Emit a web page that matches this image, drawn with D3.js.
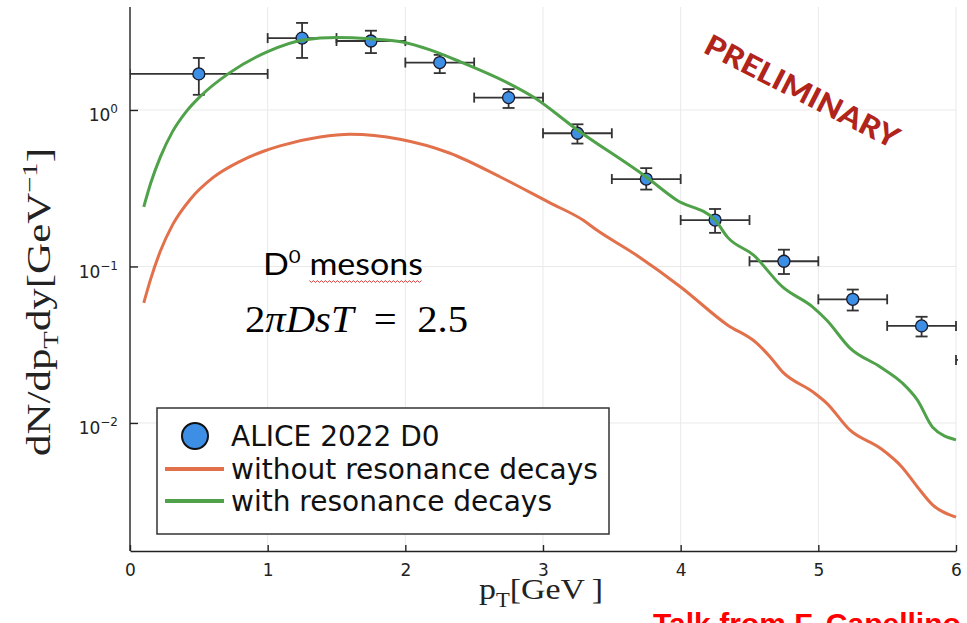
<!DOCTYPE html>
<html>
  <head>
    <style>
      body {
        margin: 0;
        background: #fff;
      }
      .grid line {
        stroke: #e9e9e9;
        stroke-width: 1px;
      }
      .axis path, .axis line {
        stroke: #222;
        stroke-width: 1.4px;
      }
      .axis text {
        font-family: "DejaVu Sans", sans-serif;
        font-size: 17px;
        fill: #222;
      }
      .model-line {
        fill: none;
        stroke-width: 3px;
        stroke-linejoin: round;
      }
      .errbar {
        stroke: #333;
        stroke-width: 1.8px;
      }
      .legend text {
        font-family: "DejaVu Sans", sans-serif;
        font-size: 28px;
        fill: #111;
      }
    </style>
  </head>
  <body>
    <script src="https://d3js.org/d3.v7.min.js"></script>
    <script>
    // ALICE 2022 D0 data: bin centre, half bin width, value, upper and lower error
      var alice_pt = [0.5, 1.25, 1.75, 2.25, 2.75, 3.25, 3.75, 4.25, 4.75, 5.25, 5.75, 6.5];
      var alice_halfwidth = [0.5, 0.25, 0.25, 0.25, 0.25, 0.25, 0.25, 0.25, 0.25, 0.25, 0.25, 0.5];
      var alice_value = [1.70, 2.88, 2.76, 2.01, 1.20, 0.71, 0.362, 0.198, 0.108, 0.0617, 0.0417, 0.0253];
      var alice_upper = [2.15, 3.60, 3.21, 2.25, 1.36, 0.81, 0.425, 0.233, 0.128, 0.0712, 0.0477, 0.029];
      var alice_lower = [1.25, 2.15, 2.31, 1.72, 1.03, 0.61, 0.310, 0.164, 0.0895, 0.0523, 0.0357, 0.022];

    // model curve with resonance decays (green)
      var with_pt = [0.10, 0.15, 0.22, 0.31, 0.41, 0.51, 0.72, 1.00, 1.26, 1.50, 1.74, 1.98, 2.18, 2.40,
                     2.75, 2.93, 3.25, 3.75, 3.97, 4.25, 4.34, 4.53, 4.74, 4.96, 5.06, 5.23, 5.45, 5.61,
                     5.72, 5.83, 6.00];
      var with_value = [0.24, 0.34, 0.50, 0.73, 0.98, 1.22, 1.72, 2.36, 2.80, 2.90, 2.85, 2.72, 2.42, 2.03,
                        1.48, 1.21, 0.745, 0.373, 0.266, 0.198, 0.154, 0.118, 0.074, 0.055, 0.0455, 0.0301,
                        0.0228, 0.018, 0.014, 0.0094, 0.0078];

    // model curve without resonance decays (orange)
      var without_pt = [0.10, 0.15, 0.22, 0.31, 0.44, 0.60, 0.80, 0.97, 1.09, 1.38, 1.60, 1.96, 2.32, 2.69,
                        3.05, 3.29, 3.39, 3.68, 4.00, 4.34, 4.55, 4.65, 4.74, 4.96, 5.06, 5.23, 5.45, 5.61,
                        5.72, 5.83, 6.00];
      var without_value = [0.0585, 0.083, 0.125, 0.185, 0.270, 0.368, 0.470, 0.545, 0.590, 0.672, 0.700, 0.650,
                           0.531, 0.373, 0.255, 0.198, 0.171, 0.118, 0.074, 0.0423, 0.0325, 0.0264, 0.0212,
                           0.0158, 0.0134, 0.0090, 0.0069, 0.0052, 0.0039, 0.0030, 0.0025];

      var x_ticks = [0, 1, 2, 3, 4, 5, 6];
      var y_ticks = [1, 0.1, 0.01];
      var y_tick_exponents = ["0", "\u22121", "\u22122"];
      var legend_labels = ["ALICE 2022 D0", "without resonance decays", "with resonance decays"];

      var colors = {data: "#3d8fe6", without: "#e2704a", with: "#4fa24a"};

    //plot box
      var width = 967, height = 623;
      var plot = {left: 130, right: 956, top: 7, bottom: 551};

      var x_scale = d3.scaleLinear().domain([0, 6]).range([plot.left, plot.right]);
      var y_scale = d3.scaleLog().domain([0.00152, 4.55]).range([plot.bottom, plot.top]);

      var svg = d3.select("body").append("svg")
          .attr("width", width)
          .attr("height", height);

      svg.append("defs").append("clipPath")
          .attr("id", "plot-clip")
        .append("rect")
          .attr("x", plot.left)
          .attr("y", plot.top - 10)
          .attr("width", plot.right - plot.left + 2)
          .attr("height", plot.bottom - plot.top + 10);

    //grid
      var grid = svg.append("g").attr("class", "grid");
      grid.selectAll(".vgrid")
          .data(x_ticks.slice(1))
        .enter().append("line")
          .attr("x1", d => x_scale(d)).attr("x2", d => x_scale(d))
          .attr("y1", plot.top).attr("y2", plot.bottom);
      grid.selectAll(".hgrid")
          .data(y_ticks)
        .enter().append("line")
          .attr("x1", plot.left).attr("x2", plot.right)
          .attr("y1", d => y_scale(d)).attr("y2", d => y_scale(d));

    //axes
      var x_axis = svg.append("g")
          .attr("class", "axis")
          .attr("transform", "translate(0," + plot.bottom + ")")
          .call(d3.axisBottom(x_scale).tickValues(x_ticks).tickSizeInner(-6).tickSizeOuter(0).tickPadding(13).tickFormat(d3.format("d")));

      var y_axis = svg.append("g")
          .attr("class", "axis")
          .attr("transform", "translate(" + plot.left + ",0)")
          .call(d3.axisLeft(y_scale).tickValues(y_ticks).tickSizeInner(-8).tickSizeOuter(0).tickPadding(12));
      y_axis.select(".domain").attr("d", "M0," + plot.top + "V" + plot.bottom);

      y_axis.selectAll(".tick text").each(function(d, i) {
        var t = d3.select(this).text("").attr("dy", "0.62em");
        t.append("tspan").text("10");
        t.append("tspan").attr("dy", -8).attr("font-size", 12).text(y_tick_exponents[i]);
      });

    //data and model curves
      var content = svg.append("g").attr("clip-path", "url(#plot-clip)");

      var alice = alice_pt.map((p, i) => ({pt: p, hw: alice_halfwidth[i], v: alice_value[i], hi: alice_upper[i], lo: alice_lower[i]}));

      var bars = content.selectAll(".errbar")
          .data(alice)
        .enter().append("g")
          .attr("class", "errbar");
      // horizontal error
      bars.append("line")
          .attr("x1", d => x_scale(d.pt - d.hw)).attr("x2", d => x_scale(d.pt + d.hw))
          .attr("y1", d => y_scale(d.v)).attr("y2", d => y_scale(d.v));
      bars.append("line")
          .attr("x1", d => x_scale(d.pt - d.hw)).attr("x2", d => x_scale(d.pt - d.hw))
          .attr("y1", d => y_scale(d.v) - 5).attr("y2", d => y_scale(d.v) + 5);
      bars.append("line")
          .attr("x1", d => x_scale(d.pt + d.hw)).attr("x2", d => x_scale(d.pt + d.hw))
          .attr("y1", d => y_scale(d.v) - 5).attr("y2", d => y_scale(d.v) + 5);
      // vertical error
      bars.append("line")
          .attr("x1", d => x_scale(d.pt)).attr("x2", d => x_scale(d.pt))
          .attr("y1", d => y_scale(d.hi)).attr("y2", d => y_scale(d.lo));
      bars.append("line")
          .attr("x1", d => x_scale(d.pt) - 6).attr("x2", d => x_scale(d.pt) + 6)
          .attr("y1", d => y_scale(d.hi)).attr("y2", d => y_scale(d.hi));
      bars.append("line")
          .attr("x1", d => x_scale(d.pt) - 6).attr("x2", d => x_scale(d.pt) + 6)
          .attr("y1", d => y_scale(d.lo)).attr("y2", d => y_scale(d.lo));

      content.selectAll(".point")
          .data(alice)
        .enter().append("circle")
          .attr("class", "point")
          .attr("cx", d => x_scale(d.pt))
          .attr("cy", d => y_scale(d.v))
          .attr("r", 6)
          .attr("fill", colors.data)
          .attr("stroke", "#1a1a2a")
          .attr("stroke-width", 1.3);

      var line_generator = d3.line()
          .x(d => x_scale(d[0]))
          .y(d => y_scale(d[1]))
          .curve(d3.curveMonotoneX);

      content.append("path")
          .attr("class", "model-line")
          .attr("stroke", colors.without)
          .attr("d", line_generator(d3.zip(without_pt, without_value)));
      content.append("path")
          .attr("class", "model-line")
          .attr("stroke", colors.with)
          .attr("d", line_generator(d3.zip(with_pt, with_value)));

    //axis titles
      var y_title = svg.append("text")
          .attr("transform", "translate(50,302) rotate(-90)")
          .attr("text-anchor", "middle")
          .attr("font-family", "Liberation Serif, serif")
          .attr("font-size", 33)
          .attr("fill", "#222")
          .attr("textLength", 308)
          .attr("lengthAdjust", "spacingAndGlyphs");
      y_title.append("tspan").text("dN/dp");
      y_title.append("tspan").attr("dy", 8).attr("font-size", 22).text("T");
      y_title.append("tspan").attr("dy", -8).text("dy[GeV");
      y_title.append("tspan").attr("dy", -13).attr("font-size", 22).text("\u22121");
      y_title.append("tspan").attr("dy", 13).text("]");

      var x_title = svg.append("text")
          .attr("x", 541).attr("y", 599)
          .attr("text-anchor", "middle")
          .attr("font-family", "Liberation Serif, serif")
          .attr("font-size", 30)
          .attr("fill", "#222")
          .attr("textLength", 124)
          .attr("lengthAdjust", "spacingAndGlyphs");
      x_title.append("tspan").text("p");
      x_title.append("tspan").attr("dy", 8).attr("font-size", 20).text("T");
      x_title.append("tspan").attr("dy", -8).text("[GeV\u2009]");

    //legend
      var legend = svg.append("g").attr("class", "legend");
      legend.append("rect")
          .attr("x", 157).attr("y", 408)
          .attr("width", 452).attr("height", 126)
          .attr("fill", "#fff")
          .attr("stroke", "#333")
          .attr("stroke-width", 1.5);
      var rows = [436, 469, 501];
      legend.append("circle")
          .attr("cx", 195).attr("cy", rows[0]).attr("r", 13)
          .attr("fill", colors.data).attr("stroke", "#111").attr("stroke-width", 2);
      legend.append("line")
          .attr("x1", 165).attr("x2", 224).attr("y1", rows[1]).attr("y2", rows[1])
          .attr("stroke", colors.without).attr("stroke-width", 4);
      legend.append("line")
          .attr("x1", 165).attr("x2", 224).attr("y1", rows[2]).attr("y2", rows[2])
          .attr("stroke", colors.with).attr("stroke-width", 4);
      legend.selectAll(".label")
          .data(legend_labels)
        .enter().append("text")
          .attr("x", 231)
          .attr("y", (d, i) => rows[i])
          .attr("dy", "0.36em")
          .text(d => d);

    //annotations
      var meson = svg.append("text")
          .attr("x", 263).attr("y", 275)
          .attr("font-family", "Lato, Open Sans, sans-serif")
          .attr("font-size", 30)
          .attr("fill", "#000")
          .attr("textLength", 160)
          .attr("lengthAdjust", "spacingAndGlyphs");
      meson.append("tspan").text("D");
      meson.append("tspan").attr("dy", -12).attr("font-size", 18).text("0");
      meson.append("tspan").attr("dy", 12).text(" mesons");

      // red spell-check squiggle under "mesons"
      var m_start = meson.node().getStartPositionOfChar(3).x;
      var m_end = meson.node().getEndPositionOfChar(8).x;
      var squiggle = d3.range(m_start, m_end, 2).map((x, i) => [x, 281 + (i % 2 ? 1.5 : -0.5)]);
      svg.append("path")
          .attr("d", d3.line()(squiggle))
          .attr("fill", "none")
          .attr("stroke", "#e23a3a")
          .attr("stroke-width", 1);

      var formula = svg.append("text")
          .attr("x", 245).attr("y", 332)
          .attr("font-family", "Liberation Serif, serif")
          .attr("font-size", 37)
          .attr("fill", "#000")
          .attr("textLength", 223)
          .attr("lengthAdjust", "spacingAndGlyphs");
      formula.append("tspan").text("2");
      formula.append("tspan").attr("font-style", "italic").text("\u03c0DsT");
      formula.append("tspan").text("\u2002=\u20022.5");

      svg.append("text")
          .attr("transform", "translate(702,52) rotate(27)")
          .attr("font-family", "Lato, Open Sans, sans-serif")
          .attr("font-weight", 900)
          .attr("font-size", 29)
          .attr("fill", "#b1241b")
          .attr("textLength", 214)
          .attr("lengthAdjust", "spacingAndGlyphs")
          .text("PRELIMINARY");

      svg.append("text")
          .attr("x", 653).attr("y", 634)
          .attr("font-family", "Liberation Sans, Arial, sans-serif")
          .attr("font-weight", "bold")
          .attr("font-size", 30)
          .attr("fill", "#ff0000")
          .text("Talk from F. Capellino");
    </script>
  </body>
</html>
